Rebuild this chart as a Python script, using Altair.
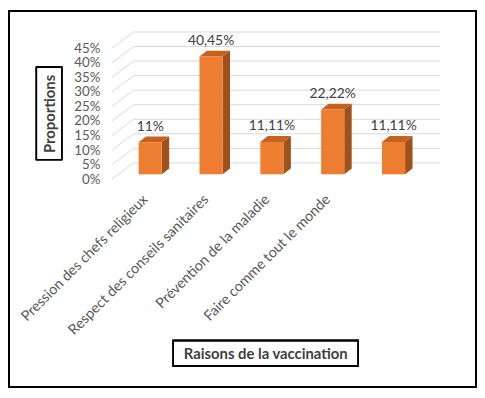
import json
import altair as alt
import pandas as pd

# ---- data ----
categories = ["Pression des chefs religieux", "Respect des conseils sanitaires",
              "Prévention de la maladie", "Faire comme tout le monde", ""]
values = [11, 40.45, 11.11, 22.22, 11.11]
value_labels = ["11%", "40,45%", "11,11%", "22,22%", "11,11%"]
y_ticks = [0, 5, 10, 15, 20, 25, 30, 35, 40, 45]

# ---- style constants (pseudo 3D geometry, in scale units) ----
X_MAX = 5.4
BAR_LEFT = 0.44
BAR_W = 0.38
DEPTH_X = 0.122
DEPTH_Y = 2.0
BASE = 1.7
WALL_X = 0.358
WALL_Y = 5.6
LABEL_POS = 0.55

ORANGE = "#ED7D31"
TOP_C = "#C5621E"
SIDE_C = "#A0501B"
GRID_C = "#D9D9D9"
TXT = "#595959"
FONT = "Lato"

xs = alt.Scale(domain=[0, X_MAX], nice=False, zero=False)
ys = alt.Scale(domain=[0, 51], nice=False, zero=False)

# ---- tables built from the arrays ----
bars = pd.DataFrame({
    "i": list(range(len(values))),
    "v": values,
    "lab": value_labels,
})
bars["xl"] = bars["i"] + BAR_LEFT
bars["xr"] = bars["xl"] + BAR_W
bars["y0"] = BASE
bars["y1"] = bars["v"] + BASE
bars["lx"] = bars["xl"] + BAR_W / 2
bars["ly"] = bars["y1"] + DEPTH_Y

rows = []
for _, r in bars.iterrows():
    for k in (0, 1):
        rows.append({
            "i": r["i"],
            "sx": r["xr"] + k * DEPTH_X,
            "sy1": r["y1"] + k * DEPTH_Y,
            "sy0": BASE + k * DEPTH_Y,
            "ty": r["y1"] + k * DEPTH_Y,
            "tx0": r["xl"] + k * DEPTH_X,
            "tx1": r["xr"] + k * DEPTH_X,
        })
faces = pd.DataFrame(rows)

wall = pd.DataFrame({"t": y_ticks})
wall["x0"] = 0.0
wall["x1"] = WALL_X
wall["xe"] = X_MAX
wall["yb"] = wall["t"] + WALL_Y

names_expr = json.dumps(categories[:4], ensure_ascii=False) + "[floor(datum.value)]"

x_axis = alt.Axis(
    values=[i + LABEL_POS for i in range(4)], labelExpr=names_expr,
    labelAngle=-45, labelAlign="right", labelBaseline="middle",
    labelPadding=18, labelLimit=0, labelOverlap=False, labelFont=FONT,
    labelFontSize=14.5, labelColor=TXT, domain=False, ticks=False, grid=False,
    title="Raisons de la vaccination", titleX=155, titleY=176,
    titleAlign="center", titleBaseline="middle", titleFont=FONT,
    titleFontSize=15, titleFontWeight="bold", titleColor="#404040",
)
y_axis = alt.Axis(
    values=y_ticks, labelExpr="datum.value + '%'", labelPadding=12,
    labelOverlap=False, labelFont=FONT, labelFontSize=13.5, labelColor=TXT,
    domain=False, ticks=False, grid=False,
    title="Proportions", titleX=-63.5, titleY=83.5, titleAngle=270,
    titleAlign="center", titleBaseline="middle", titleFont=FONT,
    titleFontSize=15, titleFontWeight="bold", titleColor="#404040",
)

X = lambda f: alt.X(f, scale=xs, axis=x_axis)
Y = lambda f: alt.Y(f, scale=ys, axis=y_axis)

diag = alt.Chart(wall).mark_rule(color=GRID_C, strokeWidth=1).encode(
    x=X("x0:Q"), x2="x1:Q", y=Y("t:Q"), y2="yb:Q",
)
horiz = alt.Chart(wall).mark_rule(color=GRID_C, strokeWidth=1).encode(
    x=X("x1:Q"), x2="xe:Q", y=Y("yb:Q"),
)
side = alt.Chart(faces).mark_area(color=SIDE_C).encode(
    x=X("sx:Q"), y=Y("sy1:Q"), y2="sy0:Q", detail="i:N",
)
top = alt.Chart(faces).mark_area(color=TOP_C, orient="horizontal").encode(
    y=Y("ty:Q"), x=X("tx0:Q"), x2="tx1:Q", detail="i:N",
)
front = alt.Chart(bars).mark_rect(color=ORANGE).encode(
    x=X("xl:Q"), x2="xr:Q", y=Y("y0:Q"), y2="y1:Q",
)
labels = alt.Chart(bars).mark_text(
    font=FONT, fontSize=14, color="#404040", baseline="alphabetic", dy=-6
).encode(
    x=X("lx:Q"), y=Y("ly:Q"), text="lab:N",
)

# decorative frames (outer border and axis-title boxes)
frame = alt.Chart(bars).mark_rect(filled=False, stroke="black", strokeWidth=1.5).encode(
    x=alt.value(-104), x2=alt.value(368), y=alt.value(-20), y2=alt.value(360)
)
ybox = alt.Chart(bars).mark_rect(filled=False, stroke="black", strokeWidth=1.3).encode(
    x=alt.value(-76.3), x2=alt.value(-50.7), y=alt.value(36.7), y2=alt.value(130.3)
)
xbox = alt.Chart(bars).mark_rect(filled=False, stroke="black", strokeWidth=1.3).encode(
    x=alt.value(62), x2=alt.value(249), y=alt.value(313), y2=alt.value(339)
)

chart = alt.layer(diag, horiz, side, top, front, labels, frame, ybox, xbox).properties(
    width=332, height=150,
    padding={"left": 105, "top": 21, "right": 37, "bottom": 212},
    autosize=alt.AutoSizeParams(type="none"),
    background="white",
).configure_view(stroke=None)

chart.save("out.html", embed_options={"renderer": "svg", "actions": False})
